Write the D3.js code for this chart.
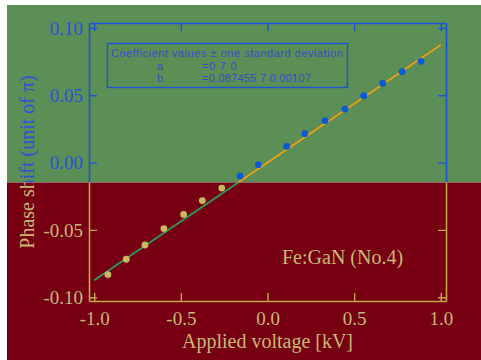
<!DOCTYPE html>
<html>
<head>
<meta charset="utf-8">
<script src="https://cdn.jsdelivr.net/npm/d3@7"></script>
<style>
  html, body { margin: 0; padding: 0; background: #fff; }
  svg { display: block; }
</style>
</head>
<body>
<script>
// Measured phase shift vs applied voltage (Fe:GaN sample No.4)
const voltage = [-0.921, -0.815, -0.707, -0.598, -0.484, -0.376, -0.264,
                 -0.159, -0.053, 0.111, 0.215, 0.332, 0.447, 0.555, 0.665, 0.777, 0.886];
const phaseShift = [-0.0832, -0.0718, -0.0612, -0.0490, -0.0385, -0.0282, -0.0189,
                    -0.0099, -0.0015, 0.0121, 0.0215, 0.0312, 0.0398, 0.0497, 0.0588, 0.0675, 0.0752];

// Linear fit y = a + b*x
const fitA = 0;
const fitB = 0.087455;
const fitRange = [-1.0, 1.0];

const xTicks = [-1.0, -0.5, 0.0, 0.5, 1.0];
const yTicks = [-0.10, -0.05, 0.00, 0.05, 0.10];

const legendLines = [
  ["Coefficient values \u00b1 one standard deviation"],
  ["a", "=0 7 0"],
  ["b", "=0.087455 7 0.00107"]
];
const sampleLabel = "Fe:GaN (No.4)";
const xTitle = "Applied voltage [kV]";
const yTitle = "Phase shift (unit of \u03c0)";

const W = 481, H = 360;
const plot = { left: 89, right: 446, top: 23, bottom: 301 };
const splitY = 182.5;   // where the upper (green) panel meets the lower (red) panel

const svg = d3.select("body").append("svg").attr("width", W).attr("height", H);
svg.append("rect").attr("width", W).attr("height", H).attr("fill", "#ffffff");
svg.append("rect").attr("x", 7).attr("y", 5).attr("width", W - 7).attr("height", splitY - 5).attr("fill", "#5b8f56");
svg.append("rect").attr("x", 7).attr("y", splitY).attr("width", W - 7).attr("height", H - splitY).attr("fill", "#760012");

const defs = svg.append("defs");
defs.append("clipPath").attr("id", "clipTop")
  .append("rect").attr("x", 0).attr("y", 0).attr("width", W).attr("height", splitY);
defs.append("clipPath").attr("id", "clipBottom")
  .append("rect").attr("x", 0).attr("y", splitY).attr("width", W).attr("height", H - splitY);

const x = d3.scaleLinear().domain([-1.03, 1.03]).range([plot.left, plot.right]);
const y = d3.scaleLinear().domain([-0.1028, 0.1037]).range([plot.bottom, plot.top]);

const themes = [
  { clip: "clipTop", axis: "#1a56d6", text: "#2a52dc", point: "#0a5ad8", line: "#f0a012" },
  { clip: "clipBottom", axis: "#c4a64a", text: "#c8b874", point: "#c9b862", line: "#2e9a5e" }
];

const serif = "'Liberation Serif', 'Times New Roman', serif";
const sans = "'Liberation Sans', Arial, sans-serif";

function drawLayer(t) {
  const g = svg.append("g").attr("clip-path", `url(#${t.clip})`);

  const styleAxis = sel => {
    sel.selectAll("path.domain").attr("stroke", t.axis).attr("stroke-width", 1.6);
    sel.selectAll(".tick line").attr("stroke", t.axis).attr("stroke-width", 1.4);
    sel.selectAll(".tick text").attr("fill", t.text)
      .style("font-family", serif).style("font-size", "19px");
  };

  g.append("g").attr("transform", `translate(0,${plot.bottom})`)
    .call(d3.axisBottom(x).tickValues(xTicks).tickSizeInner(-8).tickSizeOuter(0)
      .tickPadding(11).tickFormat(d => d.toFixed(1)))
    .call(styleAxis);
  g.append("g").attr("transform", `translate(0,${plot.top})`)
    .call(d3.axisTop(x).tickValues(xTicks).tickSizeInner(-8).tickSizeOuter(0).tickFormat(""))
    .call(styleAxis);
  g.append("g").attr("transform", `translate(${plot.left},0)`)
    .call(d3.axisLeft(y).tickValues(yTicks).tickSizeInner(-8).tickSizeOuter(0)
      .tickPadding(6).tickFormat(d => d.toFixed(2)))
    .call(styleAxis);
  g.append("g").attr("transform", `translate(${plot.right},0)`)
    .call(d3.axisRight(y).tickValues(yTicks).tickSizeInner(-8).tickSizeOuter(0).tickFormat(""))
    .call(styleAxis);

  // fitted line
  const line = d3.line().x(d => x(d)).y(d => y(fitA + fitB * d));
  g.append("path").datum(fitRange).attr("d", line)
    .attr("fill", "none").attr("stroke", t.line).attr("stroke-width", 1.8);

  // measured points
  g.selectAll("circle.pt").data(voltage).join("circle").attr("class", "pt")
    .attr("cx", d => x(d)).attr("cy", (d, i) => y(phaseShift[i]))
    .attr("r", 3.4).attr("fill", t.point);

  // axis titles
  g.append("text").attr("x", (plot.left + plot.right) / 2).attr("y", 348)
    .attr("text-anchor", "middle").attr("fill", t.text)
    .style("font-family", serif).style("font-size", "20px").text(xTitle);
  g.append("text").attr("transform", `translate(34,162) rotate(-90)`)
    .attr("text-anchor", "middle").attr("fill", t.text)
    .style("font-family", serif).style("font-size", "20px").text(yTitle);

  // sample annotation
  g.append("text").attr("x", 282).attr("y", 264).attr("fill", t.text)
    .style("font-family", serif).style("font-size", "20px").text(sampleLabel);

  // fit coefficient box
  const lg = g.append("g");
  lg.append("rect").attr("x", 107.5).attr("y", 43.5).attr("width", 240).attr("height", 44)
    .attr("fill", "none").attr("stroke", t.axis).attr("stroke-width", 1.4);
  const lt = lg.append("g").attr("fill", "#3a4ccc").style("font-family", sans).style("font-size", "11px");
  lt.append("text").attr("x", 111).attr("y", 57).attr("textLength", 232)
    .attr("lengthAdjust", "spacing").text(legendLines[0][0]);
  lt.append("text").attr("x", 157).attr("y", 69.5).text(legendLines[1][0]);
  lt.append("text").attr("x", 202).attr("y", 69.5).attr("textLength", 34.5)
    .attr("lengthAdjust", "spacing").text(legendLines[1][1]);
  lt.append("text").attr("x", 157).attr("y", 81.5).text(legendLines[2][0]);
  lt.append("text").attr("x", 202).attr("y", 81.5).attr("textLength", 109)
    .attr("lengthAdjust", "spacing").text(legendLines[2][1]);
}

themes.forEach(drawLayer);
</script>
</body>
</html>
